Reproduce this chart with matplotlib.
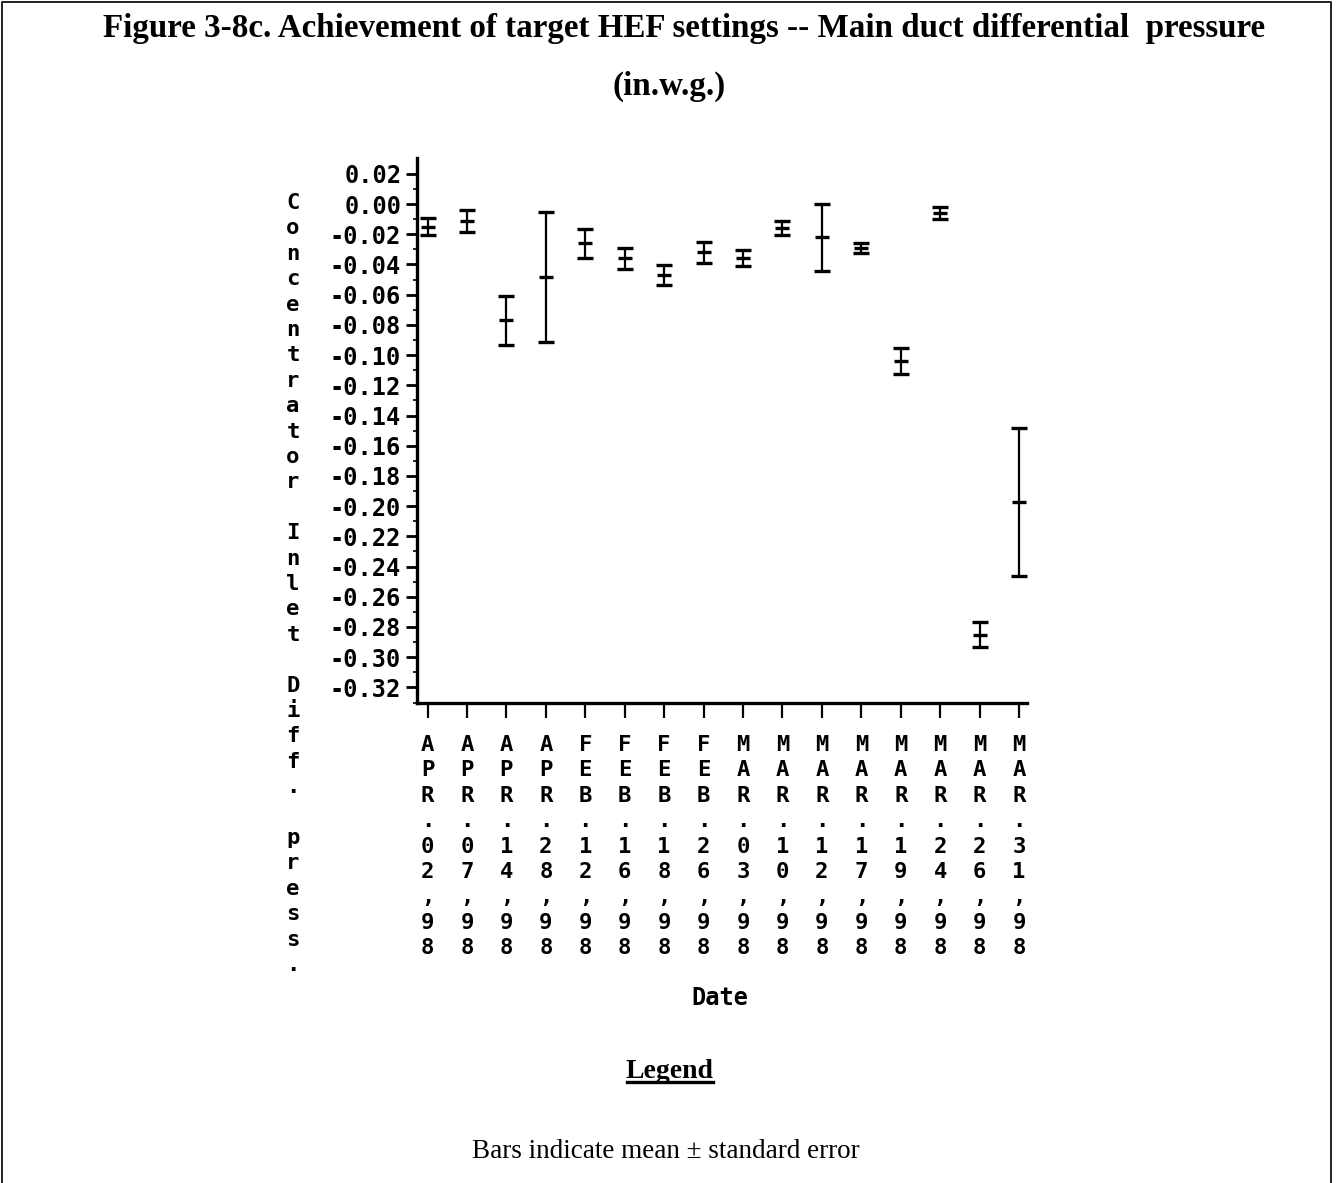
"""
Main duct differential pressure by sampling date, mean ± standard error bars.
"""
import numpy as np
import matplotlib
matplotlib.use("Agg")
import matplotlib.pyplot as plt
from matplotlib.lines import Line2D
from matplotlib.transforms import blended_transform_factory

# Sampling dates (x axis) and differential pressure summary (in.w.g.)
dates = ["APR.02,98", "APR.07,98", "APR.14,98", "APR.28,98",
         "FEB.12,98", "FEB.16,98", "FEB.18,98", "FEB.26,98",
         "MAR.03,98", "MAR.10,98", "MAR.12,98", "MAR.17,98",
         "MAR.19,98", "MAR.24,98", "MAR.26,98", "MAR.31,98"]
mean_dp = [-0.015, -0.011, -0.077, -0.048, -0.026, -0.036, -0.047, -0.032,
           -0.036, -0.016, -0.022, -0.029, -0.104, -0.006, -0.285, -0.197]
se_dp = [0.0055, 0.0073, 0.016, 0.043, 0.0098, 0.0072, 0.0065, 0.007,
         0.0053, 0.0047, 0.022, 0.0035, 0.0085, 0.0038, 0.0083, 0.049]
yticks = [0.02, 0.00, -0.02, -0.04, -0.06, -0.08, -0.10, -0.12, -0.14, -0.16,
          -0.18, -0.20, -0.22, -0.24, -0.26, -0.28, -0.30, -0.32]
ylabel = "Concentrator Inlet Diff. press."

W, H = 1339, 1183
MONO = "DejaVu Sans Mono"
SERIF = "Liberation Serif"

fig = plt.figure(figsize=(W / 100, H / 100), dpi=100)
fig.patch.set_facecolor("white")


def px(x, y):
    """pixel (from top-left) -> figure fraction"""
    return x / W, 1 - y / H


# axes box in pixels
ax_l, ax_r, ax_t, ax_b = 416.5, 1027, 158, 702.5
ax = fig.add_axes([ax_l / W, 1 - ax_b / H, (ax_r - ax_l) / W, (ax_b - ax_t) / H])

x = np.arange(1, len(dates) + 1)
ax.errorbar(x, mean_dp, yerr=se_dp, fmt="_", color="black", ecolor="black",
            elinewidth=1.6, capsize=5.5, capthick=2.4, markersize=10, mew=2.4)

ax.set_xlim(0.72, 16.2)
ax.set_ylim(-0.3284, 0.0305)

for s in ("top", "right"):
    ax.spines[s].set_visible(False)
for s in ("left", "bottom"):
    ax.spines[s].set_linewidth(2.4)

ax.set_yticks(yticks)
ax.set_yticklabels([f"{v:.2f}".replace("-0.00", "0.00") for v in yticks],
                   fontfamily=MONO, fontweight="bold", fontsize=17)
ax.set_yticks(np.arange(-0.33, 0.03, 0.02), minor=True)
ax.tick_params(axis="y", which="major", direction="out", length=8, width=2, pad=3)
ax.tick_params(axis="y", which="minor", direction="out", length=3, width=1.2)

ax.set_xticks(x)
ax.set_xticklabels([])
ax.tick_params(axis="x", direction="out", length=11, width=1.6)

# stacked date labels, one character per row
step = 25.4
tr = blended_transform_factory(ax.transData, fig.transFigure)
for xi, lab in zip(x, dates):
    for k, ch in enumerate(lab):
        ax.text(xi, 1 - (745 + k * step) / H, ch, transform=tr, ha="center",
                va="center", fontfamily=MONO, fontweight="bold", fontsize=16)

# stacked y-axis label
for k, ch in enumerate(ylabel):
    if ch == " ":
        continue
    fig.text(*px(293, 203 + k * step), ch, ha="center", va="center",
             fontfamily=MONO, fontweight="bold", fontsize=16)

fig.text(*px(720, 998), "Date", ha="center", va="center",
         fontfamily=MONO, fontweight="bold", fontsize=17)

# title
fig.text(*px(684, 28), "Figure 3-8c. Achievement of target HEF settings -- "
         "Main duct differential  pressure", ha="center", va="center",
         fontfamily=SERIF, fontweight="bold", fontsize=23.8)
fig.text(*px(669, 86), "(in.w.g.)", ha="center", va="center",
         fontfamily=SERIF, fontweight="bold", fontsize=23.8)

# legend note
fig.text(*px(670, 1072), "Legend", ha="center", va="center",
         fontfamily=SERIF, fontweight="bold", fontsize=20)
fig.add_artist(Line2D([627 / W, 713 / W], [1 - 1082 / H, 1 - 1082 / H],
                      transform=fig.transFigure, color="black", lw=2.4))
fig.text(*px(666, 1151), "Bars indicate mean \u00b1 standard error",
         ha="center", va="center", fontfamily=SERIF, fontsize=19.5)

# page frame: top, left and right edges
fx = [1.5 / W, 1.5 / W, 1331 / W, 1331 / W]
fy = [0.0, 1 - 2 / H, 1 - 2 / H, 0.0]
fig.add_artist(Line2D(fx, fy, transform=fig.transFigure,
                      color="#222222", lw=1.4))

fig.savefig("out.png", dpi=100)
